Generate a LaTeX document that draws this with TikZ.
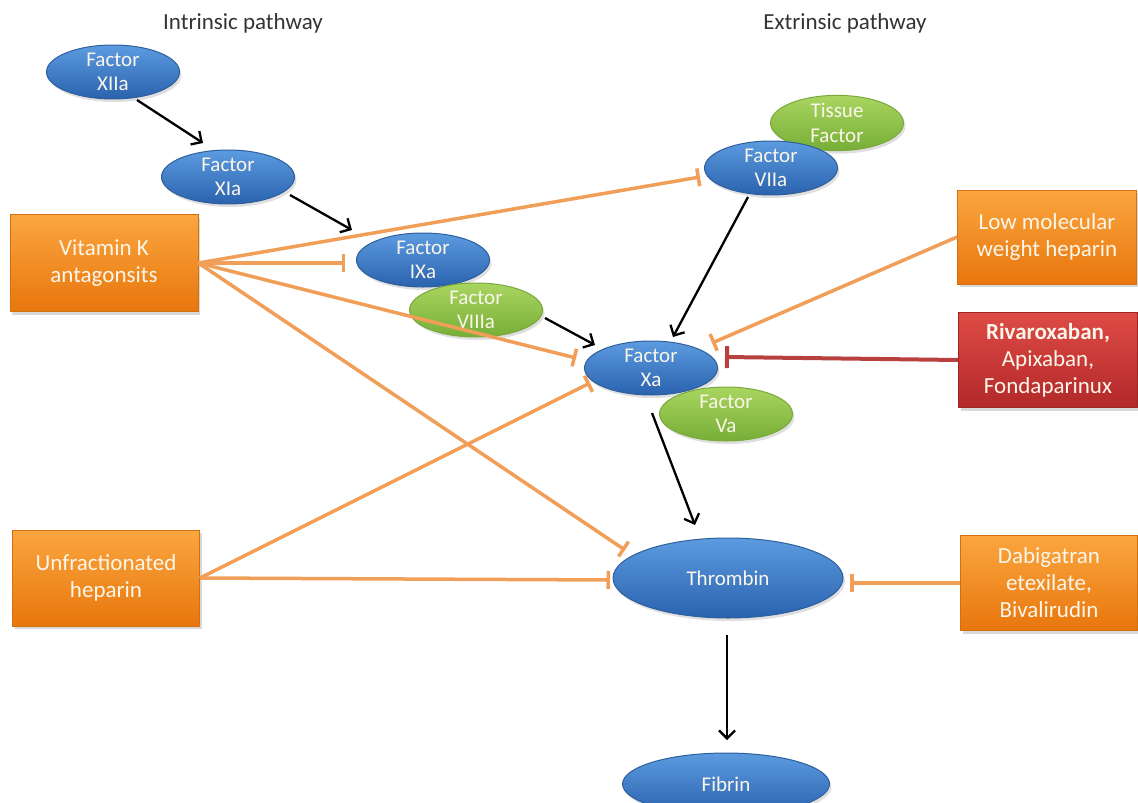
\documentclass[tikz,border=0pt]{standalone}
\usepackage{fontspec}
\setmainfont{Carlito}
\usetikzlibrary{arrows.meta,shapes.geometric,shadows,calc}
\definecolor{bluetop}{HTML}{5C9BE0}
\definecolor{bluebot}{HTML}{2A62AE}
\definecolor{blueline}{HTML}{2F5F9C}
\definecolor{greentop}{HTML}{A9D560}
\definecolor{greenbot}{HTML}{77AE37}
\definecolor{greenline}{HTML}{7AA83C}
\definecolor{orangetop}{HTML}{FBA63F}
\definecolor{orangebot}{HTML}{E8760D}
\definecolor{orangeline}{HTML}{D0700F}
\definecolor{redtop}{HTML}{DE4B45}
\definecolor{redbot}{HTML}{B2282A}
\definecolor{redline}{HTML}{9E2526}
\definecolor{inhib}{HTML}{F09E58}
\definecolor{redinhib}{HTML}{B8403F}
\definecolor{titlegray}{HTML}{333333}
\definecolor{nodetext}{HTML}{FBF6EA}
\tikzset{
  factor/.style={ellipse, inner sep=0pt, minimum width=133pt, minimum height=54pt,
    align=center, text=nodetext, font=\fontsize{21}{24.5}\selectfont,
    drop shadow={shadow xshift=2pt, shadow yshift=-3pt, opacity=0.25}},
  bluefac/.style={factor, top color=bluetop, bottom color=bluebot, draw=blueline, line width=1pt},
  greenfac/.style={factor, top color=greentop, bottom color=greenbot, draw=greenline, line width=1pt},
  drugbox/.style={rectangle, inner sep=0pt, align=center, text=nodetext,
    font=\fontsize{23}{27}\selectfont,
    drop shadow={shadow xshift=2pt, shadow yshift=-3pt, opacity=0.3}},
  orangebox/.style={drugbox, top color=orangetop, bottom color=orangebot, draw=orangeline, line width=0.8pt},
  redbox/.style={drugbox, top color=redtop, bottom color=redbot, draw=redline, line width=0.8pt},
  act/.style={-{Straight Barb[length=8pt,width=16pt,line width=2.3pt]}, line width=2.3pt, black},
  inh/.style={-{Bar[width=18pt,line width=3.5pt]}, line width=3.5pt, inhib},
  redinh/.style={-{Bar[width=22pt,line width=4pt]}, line width=4pt, redinhib},
  pathtitle/.style={font=\fontsize{23}{27}\selectfont, text=titlegray},
}
\begin{document}
\begin{tikzpicture}[x=1pt,y=-1pt]
\useasboundingbox (0,0) rectangle (1138,803);

% titles
\node[pathtitle] (tin) at (243,23) {Intrinsic pathway};
\node[pathtitle] (tex) at (845,23) {Extrinsic pathway};

% factors
\node[bluefac] (xiia) at (113,72) {Factor\\XIIa};
\node[bluefac] (xia) at (228,177) {Factor\\XIa};
\node[greenfac] (tf) at (837,123) {Tissue\\Factor};
\node[bluefac] (vii) at (771,168) {Factor\\VIIa};
\node[bluefac] (ix) at (423,260) {Factor\\IXa};
\node[greenfac] (viii) at (476,310) {Factor\\VIIIa};
\node[bluefac] (xa) at (651,368) {Factor\\Xa};
\node[greenfac] (va) at (726,414) {Factor\\Va};
\node[bluefac, minimum width=230pt, minimum height=80pt] (th) at (728,578) {Thrombin};
\node[bluefac, minimum width=207pt, minimum height=62pt] (fib) at (726,784) {Fibrin};

% drug boxes
\node[orangebox, minimum width=188pt, minimum height=97pt] (vk) at (104,263) {Vitamin K\\antagonsits};
\node[orangebox, minimum width=187pt, minimum height=96pt] (ufh) at (106,578) {Unfractionated\\heparin};
\node[orangebox, minimum width=179pt, minimum height=94pt] (lmwh) at (1047,237) {Low molecular\\weight heparin};
\node[redbox, minimum width=179pt, minimum height=95pt] (riva) at (1048,360) {{\bfseries Rivaroxaban,}\\Apixaban,\\Fondaparinux};
\node[orangebox, minimum width=177pt, minimum height=95pt] (dab) at (1049,583) {Dabigatran\\etexilate,\\Bivalirudin};

% activation arrows
\draw[act] ($(xiia.center)+(24,28)$) -- ($(xia.center)+(-25,-34)$);
\draw[act] ($(xia.center)+(62,18)$) -- ($(ix.center)+(-71,-30)$);
\draw[act] ($(viii.center)+(69,8)$) -- ($(xa.center)+(-56,-23)$);
\draw[act] ($(vii.center)+(-23,29)$) -- ($(xa.center)+(22,-31)$);
\draw[act] ($(xa.center)+(1,45)$) -- ($(th.center)+(-33,-53)$);
\draw[act] ($(th.center)+(-1,57)$) -- ($(fib.center)+(1,-44)$);

% inhibition lines
\draw[inh] (vk.east) -- ($(vii.center)+(-71,9)$);
\draw[inh] (vk.east) -- ($(ix.center)+(-78,3)$);
\draw[inh] (vk.east) -- ($(xa.center)+(-75,-10)$);
\draw[inh] (vk.east) -- ($(th.center)+(-103,-28)$);
\draw[inh] (ufh.east) -- ($(xa.center)+(-61,15)$);
\draw[inh] (ufh.east) -- ($(th.center)+(-118,2)$);
\draw[inh] (lmwh.west) -- ($(xa.center)+(61,-25)$);
\draw[redinh] (riva.west) -- ($(xa.center)+(74,-11)$);
\draw[inh] (dab.west) -- ($(th.center)+(122,5)$);
\end{tikzpicture}
\end{document}
